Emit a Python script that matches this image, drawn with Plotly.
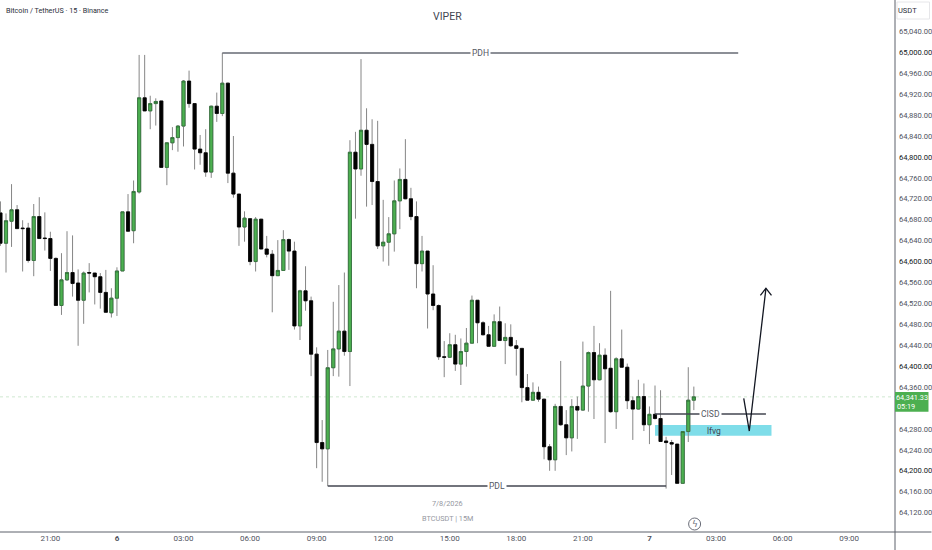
import pandas as pd
import plotly.graph_objects as go

# ---------- values ----------
first_bar = "2026-07-05 18:45"
bar_step = "15min"

opens = [64693,64635,64677,64699,64664,64664,64602,64686,64645,64644,64606,64516,64565,64579,64559,64526,64579,64578,64571,64541,64502,
 64530,64582,64695,64659,64733,64913,64888,64902,64907,64780,64827,64837,64859,64945,64902,64815,64808,64771,64897,64883,
 64941,64769,64729,64666,64682,64600,64681,64624,64614,64573,64583,64642,64620,64477,64544,64525,64423,64254,64242,64397,
 64433,64467,64428,64809,64777,64851,64824,64753,64630,64637,64653,64716,64757,64720,64686,64596,64620,64538,64516,64418,
 64417,64441,64404,64428,64444,64526,64483,64460,64438,64485,64449,64455,64439,64434,64359,64335,64350,64337,64246,64221,
 64323,64288,64263,64323,64316,64362,64426,64374,64421,64396,64313,64414,64398,64334,64318,64342,64288,64308,64300,64257,
 64254,64251,64176,64275,64335]
highs = [64715,64692,64748,64708,64679,64674,64710,64723,64694,64657,64608,64616,64658,64650,64585,64581,64597,64578,64578,64584,64549,
 64589,64695,64729,64755,64995,64995,64917,64912,64907,64828,64857,64861,64947,64965,64902,64842,64853,64898,64923,64999,
 64942,64840,64729,64696,64683,64685,64681,64649,64622,64641,64660,64644,64638,64546,64591,64533,64436,64297,64431,64523,
 64555,64579,64832,64848,64987,64893,64872,64869,64718,64685,64755,64778,64834,64741,64715,64649,64620,64593,64518,64448,
 64463,64460,64453,64473,64535,64526,64486,64477,64499,64514,64482,64480,64450,64434,64385,64369,64361,64337,64251,64328,
 64410,64316,64337,64342,64447,64428,64477,64444,64434,64544,64417,64470,64405,64342,64374,64367,64323,64363,64354,64265,
 64259,64251,64275,64398,64361]
lows = [64630,64579,64628,64663,64581,64598,64572,64644,64621,64582,64516,64498,64563,64533,64439,64481,64541,64518,64510,64503,64493,
 64496,64582,64657,64635,64730,64888,64853,64860,64780,64746,64813,64810,64820,64894,64776,64785,64762,64760,64867,64878,
 64750,64722,64630,64638,64593,64581,64624,64608,64503,64573,64582,64584,64470,64450,64506,64381,64205,64179,64171,64381,
 64380,64420,64362,64682,64764,64705,64708,64624,64600,64592,64619,64662,64719,64679,64549,64581,64472,64507,64412,64379,
 64416,64391,64364,64399,64444,64444,64459,64437,64437,64449,64404,64437,64382,64331,64335,64334,64332,64222,64200,64200,
 64286,64230,64237,64261,64315,64313,64299,64373,64253,64311,64280,64398,64318,64259,64317,64276,64251,64298,64256,64166,
 64192,64176,64176,64255,64316]
closes = [64635,64678,64699,64663,64663,64602,64686,64644,64644,64606,64516,64565,64579,64558,64526,64578,64578,64571,64541,64503,64530,
 64582,64695,64658,64734,64913,64888,64902,64906,64780,64827,64837,64859,64945,64902,64815,64808,64771,64897,64883,64941,
 64769,64729,64666,64683,64600,64681,64624,64614,64573,64583,64642,64620,64477,64544,64525,64423,64254,64242,64397,64433,
 64467,64428,64809,64777,64851,64824,64753,64630,64637,64653,64716,64757,64720,64686,64596,64620,64538,64516,64418,64417,
 64441,64404,64428,64444,64526,64483,64460,64438,64485,64449,64455,64439,64434,64359,64335,64350,64337,64246,64221,64323,
 64288,64263,64323,64316,64362,64426,64374,64421,64395,64313,64414,64398,64334,64318,64342,64288,64308,64300,64256,64254,
 64251,64176,64275,64335,64341.33]

# 64,320 sits under the live-price label in the chart, so it has no tick text
price_ticks = [p for p in range(64120, 65041, 40) if p != 64320]
strong_prices = [64200, 64400, 64600, 64800, 65000]
time_ticks = ["2026-07-05 21:00","2026-07-06 00:00","2026-07-06 03:00","2026-07-06 06:00","2026-07-06 09:00",
              "2026-07-06 12:00","2026-07-06 15:00","2026-07-06 18:00","2026-07-06 21:00","2026-07-07 00:00",
              "2026-07-07 03:00","2026-07-07 06:00","2026-07-07 09:00"]
time_labels = ["21:00","<b>6</b>","03:00","06:00","09:00","12:00","15:00","18:00","21:00","<b>7</b>","03:00","06:00","09:00"]

last_price = 64341.33
pdh_price = 64998.6
pdh_span = ["2026-07-06 04:45", "2026-07-07 04:00"]
pdl_price = 64171
pdl_span = ["2026-07-06 09:30", "2026-07-07 00:45"]
cisd_price = 64308.5
cisd_span = ["2026-07-07 00:15", "2026-07-07 05:15"]
fvg_prices = [64267, 64287.5]
fvg_span = ["2026-07-07 00:15", "2026-07-07 05:30"]
arrow_times = ["2026-07-07 04:15","2026-07-07 04:30","2026-07-07 05:15"]
arrow_prices = [64338.6, 64276, 64548.8]
head_times = ["2026-07-07 05:00","2026-07-07 05:15","2026-07-07 05:30"]
head_prices = [64535.5, 64548.8, 64535.5]

# ---------- styling ----------
W, H = 932, 550
PLOT_R, PLOT_B = 895.5, 532
FONT = "Liberation Sans Narrow, Roboto, Arial"
GREEN, BLACK, WICK = "#4caf50", "#000000", "#868686"
AXIS = "#5d606b"

times = pd.date_range(first_bar, periods=len(opens), freq=bar_step)
body_hi = [max(o, c) for o, c in zip(opens, closes)]
body_lo = [min(o, c) for o, c in zip(opens, closes)]


def px(x):
    return x / PLOT_R


def py(y):
    return 1 - y / PLOT_B


fig = go.Figure()

# drawings that sit behind the candles
for span, price, col in [(pdh_span, pdh_price, "#666a73"), (pdl_span, pdl_price, "#434651"), (cisd_span, cisd_price, "#434651")]:
    fig.add_trace(go.Scatter(x=span, y=[price, price], mode="lines", line=dict(color=col, width=1.4), hoverinfo="skip", showlegend=False))

fig.add_trace(go.Candlestick(
    x=times, open=opens, high=highs, low=lows, close=closes, showlegend=False,
    increasing=dict(line=dict(color=WICK, width=1), fillcolor=WICK),
    decreasing=dict(line=dict(color=WICK, width=1), fillcolor=WICK), whiskerwidth=0))
fig.add_trace(go.Candlestick(
    x=times, open=opens, high=body_hi, low=body_lo, close=closes, showlegend=False,
    increasing=dict(line=dict(color="#2a6b33", width=0.7), fillcolor=GREEN),
    decreasing=dict(line=dict(color=BLACK, width=0.7), fillcolor=BLACK), whiskerwidth=0))

fig.add_trace(go.Scatter(x=arrow_times, y=arrow_prices, mode="lines", line=dict(color="#131722", width=1.3), hoverinfo="skip", showlegend=False))
fig.add_trace(go.Scatter(x=head_times, y=head_prices, mode="lines", line=dict(color="#131722", width=1.3), hoverinfo="skip", showlegend=False))

shapes = [
    dict(type="rect", xref="x", yref="y", x0=fvg_span[0], x1=fvg_span[1], y0=fvg_prices[0], y1=fvg_prices[1],
         fillcolor="#7fdde9", line_width=0, layer="below"),
    dict(type="line", xref="paper", yref="y", x0=0, x1=1, y0=last_price, y1=last_price,
         line=dict(color="#cfe8d0", width=1, dash="dot"), layer="below"),
    dict(type="line", xref="paper", yref="paper", x0=1, x1=1, y0=py(H), y1=1, line=dict(color=AXIS, width=1)),
    dict(type="line", xref="paper", yref="paper", x0=0, x1=px(W), y0=0, y1=0, line=dict(color=AXIS, width=1)),
    dict(type="rect", xref="paper", yref="paper", x0=1, x1=px(929), y0=py(411.7), y1=py(392),
         fillcolor=GREEN, line_width=0),
    dict(type="rect", xref="paper", yref="paper", x0=px(897.5), x1=px(930), y0=py(19), y1=py(2),
         fillcolor="#ffffff", line=dict(color="#e6e6e9", width=1)),
    dict(type="circle", xref="paper", yref="paper", x0=px(689), x1=px(701), y0=py(530), y1=py(518),
         line=dict(color="#6a6d78", width=1)),
]


def note(text, x, y, size=8, color="#131722", bg=None, anchor="center", family=FONT):
    return dict(text=text, xref="paper", yref="paper", x=px(x), y=py(y), showarrow=False, xanchor=anchor, yanchor="middle",
                font=dict(family=family, size=size, color=color), bgcolor=bg, borderpad=1)


annotations = [
    note("Bitcoin / TetherUS · 15 · Binance", 4, 10.5, 7.2, "#2a2e39", anchor="left"),
    note("VIPER", 448, 17, 10.5, "#434651"),
    note("PDH", 481, 53, 8.5, "#555862", "#ffffff"),
    note("PDL", 497, 486, 8.5, "#555862", "#ffffff"),
    note("CISD", 711, 414, 8.5, "#555862", "#ffffff"),
    note("lfvg", 714, 430.5, 8.5, "#434651"),
    note("7/8/2026", 448, 503, 7.3, "#9598a1"),
    note("BTCUSDT | 15M", 448, 518, 7.3, "#9598a1"),
    note("USDT", 908, 11, 7.5, "#2a2e39"),
    note("64,341.33", 913, 397, 7.3, "#ffffff"),
    note("05:19", 907, 406, 7.3, "#ffffff"),
    note("ϟ", 695, 524, 9, "#6a6d78", family="DejaVu Sans"),
]

price_text = []
for p in price_ticks:
    s = f"{p:,.2f}"
    price_text.append(f'<span style="color:#131722">{s}</span>' if p in strong_prices else s)

fig.update_layout(
    width=W, height=H, autosize=False,
    margin=dict(l=0, r=W - PLOT_R, t=0, b=H - PLOT_B, pad=0),
    paper_bgcolor="#ffffff", plot_bgcolor="#ffffff",
    showlegend=False, boxgap=0.25, boxgroupgap=0.25,
    shapes=shapes, annotations=annotations,
    font=dict(family=FONT, size=8, color="#50535e"),
    xaxis=dict(type="date", range=["2026-07-05 18:43:47", "2026-07-07 11:04:00"], rangeslider=dict(visible=False),
               tickmode="array", tickvals=time_ticks, ticktext=time_labels, ticks="", showgrid=False, zeroline=False,
               showline=False, tickfont=dict(family=FONT, size=8, color="#50535e")),
    yaxis=dict(side="right", range=[64083, 65100], tickmode="array", tickvals=price_ticks, ticktext=price_text,
               ticks="", showgrid=False, zeroline=False, showline=False, ticklabelstandoff=3,
               tickfont=dict(family=FONT, size=7.6, color="#50535e")),
)

fig.write_html("out.html", config={"displayModeBar": False}, post_script="document.body.style.margin='0';")
